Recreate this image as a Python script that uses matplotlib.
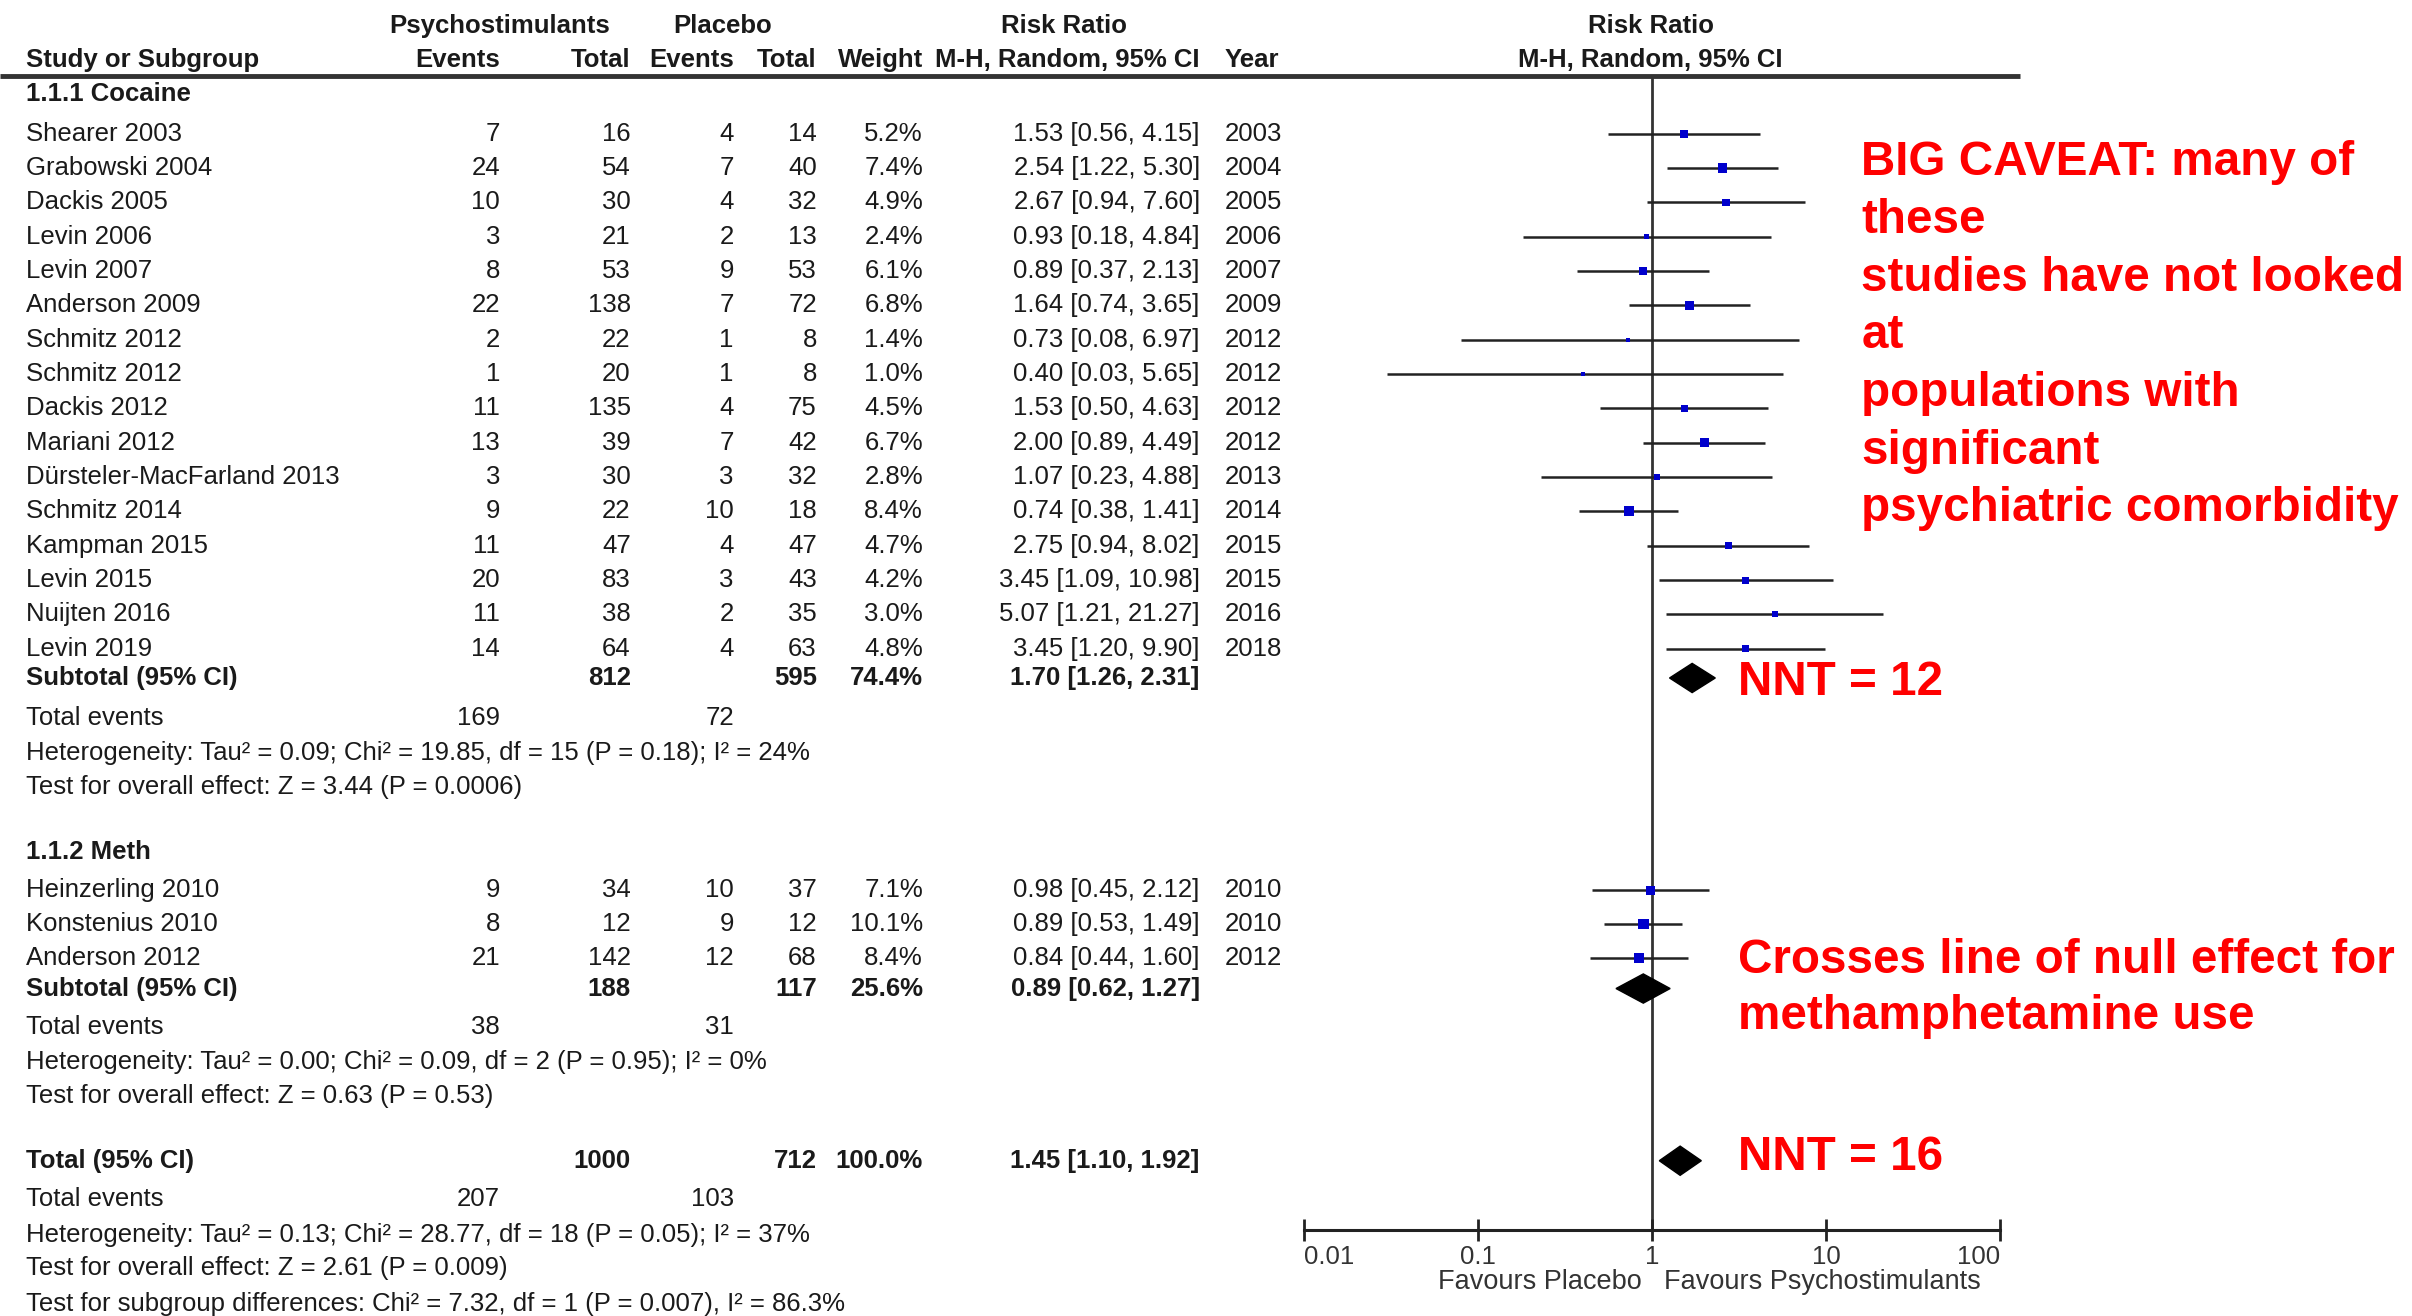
import matplotlib
matplotlib.use("Agg")
import matplotlib.pyplot as plt
from matplotlib.ticker import NullLocator
import numpy as np

# ---- data: 1.1.1 Cocaine
coc_study = ["Shearer 2003", "Grabowski 2004", "Dackis 2005", "Levin 2006", "Levin 2007",
             "Anderson 2009", "Schmitz 2012", "Schmitz 2012", "Dackis 2012", "Mariani 2012",
             "Dürsteler-MacFarland 2013", "Schmitz 2014", "Kampman 2015", "Levin 2015",
             "Nuijten 2016", "Levin 2019"]
coc_ev_t = [7, 24, 10, 3, 8, 22, 2, 1, 11, 13, 3, 9, 11, 20, 11, 14]
coc_tot_t = [16, 54, 30, 21, 53, 138, 22, 20, 135, 39, 30, 22, 47, 83, 38, 64]
coc_ev_c = [4, 7, 4, 2, 9, 7, 1, 1, 4, 7, 3, 10, 4, 3, 2, 4]
coc_tot_c = [14, 40, 32, 13, 53, 72, 8, 8, 75, 42, 32, 18, 47, 43, 35, 63]
coc_weight = [5.2, 7.4, 4.9, 2.4, 6.1, 6.8, 1.4, 1.0, 4.5, 6.7, 2.8, 8.4, 4.7, 4.2, 3.0, 4.8]
coc_rr = [1.53, 2.54, 2.67, 0.93, 0.89, 1.64, 0.73, 0.40, 1.53, 2.00, 1.07, 0.74, 2.75, 3.45, 5.07, 3.45]
coc_lo = [0.56, 1.22, 0.94, 0.18, 0.37, 0.74, 0.08, 0.03, 0.50, 0.89, 0.23, 0.38, 0.94, 1.09, 1.21, 1.20]
coc_hi = [4.15, 5.30, 7.60, 4.84, 2.13, 3.65, 6.97, 5.65, 4.63, 4.49, 4.88, 1.41, 8.02, 10.98, 21.27, 9.90]
coc_year = [2003, 2004, 2005, 2006, 2007, 2009, 2012, 2012, 2012, 2012, 2013, 2014, 2015, 2015, 2016, 2018]

# ---- data: 1.1.2 Meth
meth_study = ["Heinzerling 2010", "Konstenius 2010", "Anderson 2012"]
meth_ev_t = [9, 8, 21]
meth_tot_t = [34, 12, 142]
meth_ev_c = [10, 9, 12]
meth_tot_c = [37, 12, 68]
meth_weight = [7.1, 10.1, 8.4]
meth_rr = [0.98, 0.89, 0.84]
meth_lo = [0.45, 0.53, 0.44]
meth_hi = [2.12, 1.49, 1.60]
meth_year = [2010, 2010, 2012]

# ---- pooled estimates: cocaine subtotal, meth subtotal, overall
pool_label = ["Subtotal (95% CI)", "Subtotal (95% CI)", "Total (95% CI)"]
pool_tot_t = [812, 188, 1000]
pool_tot_c = [595, 117, 712]
pool_weight = [74.4, 25.6, 100.0]
pool_rr = [1.70, 0.89, 1.45]
pool_lo = [1.26, 0.62, 1.10]
pool_hi = [2.31, 1.27, 1.92]
pool_events_t = [169, 38, 207]
pool_events_c = [72, 31, 103]
pool_het = ["Heterogeneity: Tau² = 0.09; Chi² = 19.85, df = 15 (P = 0.18); I² = 24%",
            "Heterogeneity: Tau² = 0.00; Chi² = 0.09, df = 2 (P = 0.95); I² = 0%",
            "Heterogeneity: Tau² = 0.13; Chi² = 28.77, df = 18 (P = 0.05); I² = 37%"]
pool_z = ["Test for overall effect: Z = 3.44 (P = 0.0006)",
          "Test for overall effect: Z = 0.63 (P = 0.53)",
          "Test for overall effect: Z = 2.61 (P = 0.009)"]
subgroup_test = "Test for subgroup differences: Chi² = 7.32, df = 1 (P = 0.007), I² = 86.3%"

x_ticks = [0.01, 0.1, 1, 10, 100]
x_ticklabels = ["0.01", "0.1", "1", "10", "100"]

# layout units follow the 1568 x 856 view of the slide
W, H = 1568, 856
FONT = "Liberation Sans"
FS = 18.5
TXT = "#1a1a1a"
RED = "#ff0000"

fig = plt.figure(figsize=(24.12, 13.16), dpi=100)
bg = fig.add_axes([0, 0, 1, 1])
bg.set_xlim(0, W)
bg.set_ylim(H, 0)
bg.axis("off")

ax = fig.add_axes([848 / W, 0, (1300 - 848) / W, 1])
ax.set_xscale("log")
ax.set_xlim(0.01, 100)
ax.set_ylim(H, 0)
ax.patch.set_alpha(0)

# column positions
X_NAME, X_EVT, X_TOTT, X_EVC, X_TOTC, X_W, X_RR, X_YEAR = 17, 325, 410, 477, 531, 600, 780, 796


def put(x, y, s, ha="right", bold=False, size=FS, color=TXT):
    bg.text(x, y, s, ha=ha, va="center", fontsize=size, family=FONT,
            fontweight="bold" if bold else "normal", color=color)


def study_rows(ys, names, evt, tott, evc, totc, w, rr, lo, hi, yr):
    for i, y in enumerate(ys):
        put(X_NAME, y, names[i], ha="left")
        put(X_EVT, y, str(evt[i]))
        put(X_TOTT, y, str(tott[i]))
        put(X_EVC, y, str(evc[i]))
        put(X_TOTC, y, str(totc[i]))
        put(X_W, y, f"{w[i]:.1f}%")
        put(X_RR, y, f"{rr[i]:.2f} [{lo[i]:.2f}, {hi[i]:.2f}]")
        put(X_YEAR, y, str(yr[i]), ha="left")
    ax.hlines(ys, lo, hi, color="#222222", lw=1.8, zorder=2)
    side_px = 3.4 * np.sqrt(np.array(w))
    ax.scatter(rr, ys, s=(side_px * 0.72) ** 2, marker="s", color="#0000cc",
               linewidths=0, zorder=3)


def pooled(k, y, y_ev, y_het, y_z):
    put(X_NAME, y, pool_label[k], ha="left", bold=True)
    put(X_TOTT, y, str(pool_tot_t[k]), bold=True)
    put(X_TOTC, y, str(pool_tot_c[k]), bold=True)
    put(X_W, y, f"{pool_weight[k]:.1f}%", bold=True)
    put(X_RR, y, f"{pool_rr[k]:.2f} [{pool_lo[k]:.2f}, {pool_hi[k]:.2f}]", bold=True)
    put(X_NAME, y_ev, "Total events", ha="left")
    put(X_EVT, y_ev, str(pool_events_t[k]))
    put(X_EVC, y_ev, str(pool_events_c[k]))
    put(X_NAME, y_het, pool_het[k], ha="left")
    put(X_NAME, y_z, pool_z[k], ha="left")
    h = 9.5
    ax.fill([pool_lo[k], pool_rr[k], pool_hi[k], pool_rr[k]], [y, y - h, y, y + h],
            color="black", zorder=3)


# headers
put(325, 17, "Psychostimulants", ha="center", bold=True)
put(470, 17, "Placebo", ha="center", bold=True)
put(692, 17, "Risk Ratio", ha="center", bold=True)
put(1073, 17, "Risk Ratio", ha="center", bold=True)
put(X_NAME, 39, "Study or Subgroup", ha="left", bold=True)
put(X_EVT, 39, "Events", bold=True)
put(X_TOTT, 39, "Total", bold=True)
put(X_EVC, 39, "Events", bold=True)
put(X_TOTC, 39, "Total", bold=True)
put(X_W, 39, "Weight", bold=True)
put(X_RR, 39, "M-H, Random, 95% CI", bold=True)
put(X_YEAR, 39, "Year", ha="left", bold=True)
put(1073, 39, "M-H, Random, 95% CI", ha="center", bold=True)
bg.plot([0, 1313], [49.5, 49.5], color="#333333", lw=3.5, solid_capstyle="butt")

# cocaine
put(X_NAME, 61, "1.1.1 Cocaine", ha="left", bold=True)
study_rows(87 + 22.33 * np.arange(len(coc_study)), coc_study, coc_ev_t, coc_tot_t,
           coc_ev_c, coc_tot_c, coc_weight, coc_rr, coc_lo, coc_hi, coc_year)
pooled(0, 441, 467, 490, 512)

# meth
put(X_NAME, 554, "1.1.2 Meth", ha="left", bold=True)
study_rows(579 + 22 * np.arange(len(meth_study)), meth_study, meth_ev_t, meth_tot_t,
           meth_ev_c, meth_tot_c, meth_weight, meth_rr, meth_lo, meth_hi, meth_year)
pooled(1, 643, 668, 691, 713)

# overall
pooled(2, 755, 780, 803, 825)
put(X_NAME, 848, subgroup_test, ha="left")

# forest axis
ax.vlines(1, 49.5, 800, color="#333333", lw=2, zorder=1)
for s in ["top", "left", "right"]:
    ax.spines[s].set_visible(False)
ax.spines["bottom"].set_position(("data", 800))
ax.spines["bottom"].set_linewidth(2.2)
ax.spines["bottom"].set_color("#222222")
ax.set_yticks([])
ax.set_xticks(x_ticks)
ax.set_xticklabels(x_ticklabels)
ax.xaxis.set_minor_locator(NullLocator())
ax.tick_params(axis="x", direction="inout", length=16, width=2, color="#222222",
               labelsize=18.5, labelcolor="#333333", pad=3)
labels = ax.get_xticklabels()
for i, lbl in enumerate(labels):
    lbl.set_family(FONT)
    if i == 0:
        lbl.set_ha("left")
    elif i == len(labels) - 1:
        lbl.set_ha("right")
put(1067, 834, "Favours Placebo", size=19.5, color="#333333")
put(1082, 834, "Favours Psychostimulants", ha="left", size=19.5, color="#333333")

# red annotations
caveat = ["BIG CAVEAT: many of", "these", "studies have not looked", "at",
          "populations with", "significant", "psychiatric comorbidity"]
for i, line in enumerate(caveat):
    put(1210, 106 + 37.5 * i, line, ha="left", bold=True, size=34.3, color=RED)
put(1130, 444, "NNT = 12", ha="left", bold=True, size=34.3, color=RED)
put(1130, 625, "Crosses line of null effect for", ha="left", bold=True, size=34.3, color=RED)
put(1130, 661, "methamphetamine use", ha="left", bold=True, size=34.3, color=RED)
put(1130, 753, "NNT = 16", ha="left", bold=True, size=34.3, color=RED)

fig.savefig("out.png", dpi=100, facecolor="white")
